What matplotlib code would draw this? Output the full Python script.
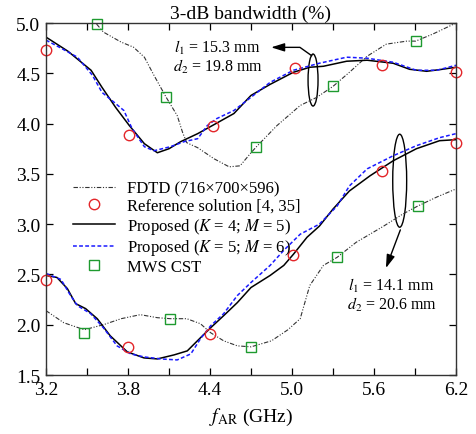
import matplotlib
matplotlib.use("Agg")
import matplotlib.pyplot as plt
from matplotlib.patches import Ellipse
from matplotlib.ticker import FixedLocator

plt.rcParams['font.family'] = ['Liberation Serif', 'DejaVu Serif']
plt.rcParams['mathtext.fontset'] = 'stix'

# ---------------- data ----------------
# Upper group (l1 = 15.3 mm, d2 = 19.8 mm)
fdtd_up_x = [3.57, 3.62, 3.75, 3.84, 3.92, 3.99, 4.08, 4.16, 4.20, 4.23, 4.31, 4.43, 4.54, 4.62, 4.70,
             4.74, 4.89, 5.06, 5.18, 5.30, 5.42, 5.55, 5.69, 5.84, 5.905, 6.03, 6.2]
fdtd_up_y = [4.99, 4.91, 4.81, 4.76, 4.66, 4.48, 4.26, 4.08, 3.91, 3.81, 3.76, 3.65, 3.57, 3.58, 3.71,
             3.77, 3.98, 4.18, 4.26, 4.37, 4.51, 4.67, 4.79, 4.82, 4.82, 4.89, 5.0]

k4_up_x = [3.2, 3.36, 3.53, 3.61, 3.71, 3.81, 3.92, 4.015, 4.10, 4.185, 4.31, 4.43, 4.575, 4.70,
           4.84, 5.01, 5.13, 5.23, 5.40, 5.55, 5.74, 5.86, 5.985, 6.10, 6.2]
k4_up_y = [4.86, 4.72, 4.53, 4.36, 4.16, 3.98, 3.80, 3.71, 3.75, 3.82, 3.90, 3.99, 4.10, 4.28,
           4.39, 4.51, 4.56, 4.57, 4.62, 4.63, 4.60, 4.54, 4.52, 4.54, 4.56]

k5_up_x = [3.2, 3.31, 3.43, 3.54, 3.61, 3.70, 3.77, 3.83, 3.92, 3.99, 4.11, 4.21, 4.31, 4.38, 4.45,
           4.575, 4.67, 4.84, 5.01, 5.20, 5.40, 5.55, 5.74, 5.91, 6.06, 6.2]
k5_up_y = [4.83, 4.75, 4.66, 4.48, 4.31, 4.21, 4.13, 3.95, 3.77, 3.73, 3.77, 3.82, 3.85, 3.98, 4.05,
           4.13, 4.23, 4.41, 4.53, 4.60, 4.66, 4.65, 4.61, 4.53, 4.53, 4.58]

ref_up_x = [3.2, 3.81, 4.42, 5.02, 5.66, 6.2]
ref_up_y = [4.73, 3.89, 3.98, 4.55, 4.58, 4.51]

cst_up_x = [3.57, 4.08, 4.74, 5.30, 5.905]
cst_up_y = [4.99, 4.26, 3.77, 4.37, 4.82]

# Lower group (l1 = 14.1 mm, d2 = 20.6 mm)
fdtd_lo_x = [3.2, 3.33, 3.48, 3.62, 3.75, 3.89, 4.015, 4.11, 4.23, 4.33, 4.405, 4.50, 4.60, 4.70,
             4.85, 4.97, 5.06, 5.13, 5.23, 5.33, 5.47, 5.67, 5.81, 5.92, 6.06, 6.2]
fdtd_lo_y = [2.14, 2.02, 1.95, 2.00, 2.06, 2.10, 2.07, 2.06, 2.06, 2.01, 1.92, 1.84, 1.79, 1.78,
             1.84, 1.95, 2.06, 2.39, 2.59, 2.67, 2.82, 2.98, 3.10, 3.18, 3.27, 3.35]

k4_lo_x = [3.2, 3.28, 3.356, 3.417, 3.49, 3.575, 3.67, 3.795, 3.917, 4.015, 4.137, 4.234, 4.33,
           4.405, 4.50, 4.60, 4.70, 4.84, 4.94, 5.01, 5.11, 5.20, 5.30, 5.42, 5.57, 5.74, 5.91,
           6.08, 6.2]
k4_lo_y = [2.49, 2.47, 2.36, 2.21, 2.16, 2.06, 1.89, 1.73, 1.67, 1.66, 1.70, 1.74, 1.87,
           1.97, 2.09, 2.22, 2.37, 2.49, 2.59, 2.70, 2.87, 2.98, 3.15, 3.33, 3.48, 3.63, 3.75,
           3.83, 3.84]

k5_lo_x = [3.2, 3.31, 3.38, 3.43, 3.527, 3.62, 3.72, 3.82, 3.917, 4.04, 4.16, 4.26, 4.33, 4.405,
           4.50, 4.60, 4.70, 4.84, 4.94, 5.06, 5.20, 5.33, 5.42, 5.55, 5.74, 5.91, 6.08, 6.2]
k5_lo_y = [2.51, 2.45, 2.29, 2.19, 2.11, 1.97, 1.79, 1.71, 1.68, 1.66, 1.65, 1.71, 1.86, 1.99,
           2.11, 2.29, 2.42, 2.59, 2.74, 2.90, 3.00, 3.18, 3.38, 3.55, 3.68, 3.78, 3.86, 3.90]

ref_lo_x = [3.2, 3.80, 4.40, 5.01, 5.66, 6.2]
ref_lo_y = [2.44, 1.78, 1.91, 2.69, 3.53, 3.81]

cst_lo_x = [3.48, 4.11, 4.70, 5.33, 5.92]
cst_lo_y = [1.92, 2.06, 1.78, 2.67, 3.18]

x_ticks = [3.2, 3.8, 4.4, 5.0, 5.6, 6.2]
x_minor = [3.5, 4.1, 4.7, 5.3, 5.9]
y_ticks = [1.5, 2.0, 2.5, 3.0, 3.5, 4.0, 4.5, 5.0]

legend_labels = ["FDTD (716\u00d7700\u00d7596)",
                 "Reference solution [4, 35]",
                 "Proposed ($K$ = 4; $M$ = 5)",
                 "Proposed ($K$ = 5; $M$ = 6)",
                 "MWS CST"]

# ---------------- plot ----------------
fig = plt.figure(figsize=(4.76, 4.35), dpi=100)
ax = fig.add_axes([0.0966, 0.1356, 0.8614, 0.8092])

fdtd_style = dict(color='#333333', lw=0.8, ls=(0, (4, 1.5, 1, 1.5, 1, 1.5)))
k4_style = dict(color='black', lw=1.1, ls='-')
k5_style = dict(color='#1a1aff', lw=1.1, ls=(0, (2.5, 1.5)))
ref_style = dict(ls='none', marker='o', ms=7.5, mfc='none', mec='#e3262a', mew=1.0)
cst_style = dict(ls='none', marker='s', ms=7, mfc='none', mec='#1e9a2f', mew=1.0)

h_fdtd, = ax.plot(fdtd_up_x, fdtd_up_y, **fdtd_style)
ax.plot(fdtd_lo_x, fdtd_lo_y, **fdtd_style)
h_k4, = ax.plot(k4_up_x, k4_up_y, **k4_style)
ax.plot(k4_lo_x, k4_lo_y, **k4_style)
h_k5, = ax.plot(k5_up_x, k5_up_y, **k5_style)
ax.plot(k5_lo_x, k5_lo_y, **k5_style)
h_ref, = ax.plot(ref_up_x, ref_up_y, clip_on=False, **ref_style)
ax.plot(ref_lo_x, ref_lo_y, clip_on=False, **ref_style)
h_cst, = ax.plot(cst_up_x, cst_up_y, clip_on=False, **cst_style)
ax.plot(cst_lo_x, cst_lo_y, clip_on=False, **cst_style)

ax.set_xlim(3.2, 6.2)
ax.set_ylim(1.5, 5.0)
ax.xaxis.set_major_locator(FixedLocator(x_ticks))
ax.xaxis.set_minor_locator(FixedLocator(x_minor))
ax.yaxis.set_major_locator(FixedLocator(y_ticks))
ax.tick_params(which='both', direction='in', top=True, right=True, labelsize=14)
ax.tick_params(which='major', length=5, width=0.9, pad=4)
ax.tick_params(which='minor', length=5, width=0.9)
ax.xaxis.set_major_formatter(plt.FuncFormatter(lambda v, p: f"{v:.1f}"))
ax.yaxis.set_major_formatter(plt.FuncFormatter(lambda v, p: f"{v:.1f}"))
for s in ax.spines.values():
    s.set_linewidth(1.0)
    s.set_color('#333333')

ax.set_title("3-dB bandwidth (%)", fontsize=14, pad=4)
ax.set_xlabel(r"$f_{\rm AR}$ (GHz)", fontsize=14, labelpad=6)

leg = ax.legend([h_fdtd, h_ref, h_k4, h_k5, h_cst], legend_labels,
                loc='upper left', bbox_to_anchor=(0.05, 0.572), frameon=False,
                fontsize=12, handlelength=2.5, handletextpad=0.75,
                labelspacing=0.1, borderaxespad=0)

# annotations
ax.add_patch(Ellipse((5.154, 4.433), 0.073, 0.517, fill=False, lw=1.0, ec='black'))
ax.add_patch(Ellipse((5.788, 3.432), 0.102, 0.925, fill=False, lw=1.0, ec='black'))
ax.plot([5.144, 5.058, 4.90], [4.675, 4.758, 4.758], color='black', lw=1.0)
ax.annotate("", xy=(4.827, 4.758), xytext=(4.92, 4.758),
            arrowprops=dict(arrowstyle='-|>,head_length=0.8,head_width=0.25', color='black', lw=1.0))
ax.annotate("", xy=(5.68, 2.537), xytext=(5.80, 2.969),
            arrowprops=dict(arrowstyle='-|>,head_length=0.8,head_width=0.25', color='black', lw=1.0))
ax.text(4.455, 4.761, "$l_1$ = 15.3 mm", fontsize=11.5, ha='center', va='center')
ax.text(4.455, 4.572, "$d_2$ = 19.8 mm", fontsize=11.5, ha='center', va='center')
ax.text(5.728, 2.398, "$l_1$ = 14.1 mm", fontsize=11.5, ha='center', va='center')
ax.text(5.728, 2.206, "$d_2$ = 20.6 mm", fontsize=11.5, ha='center', va='center')

fig.savefig("out.png", dpi=100)
